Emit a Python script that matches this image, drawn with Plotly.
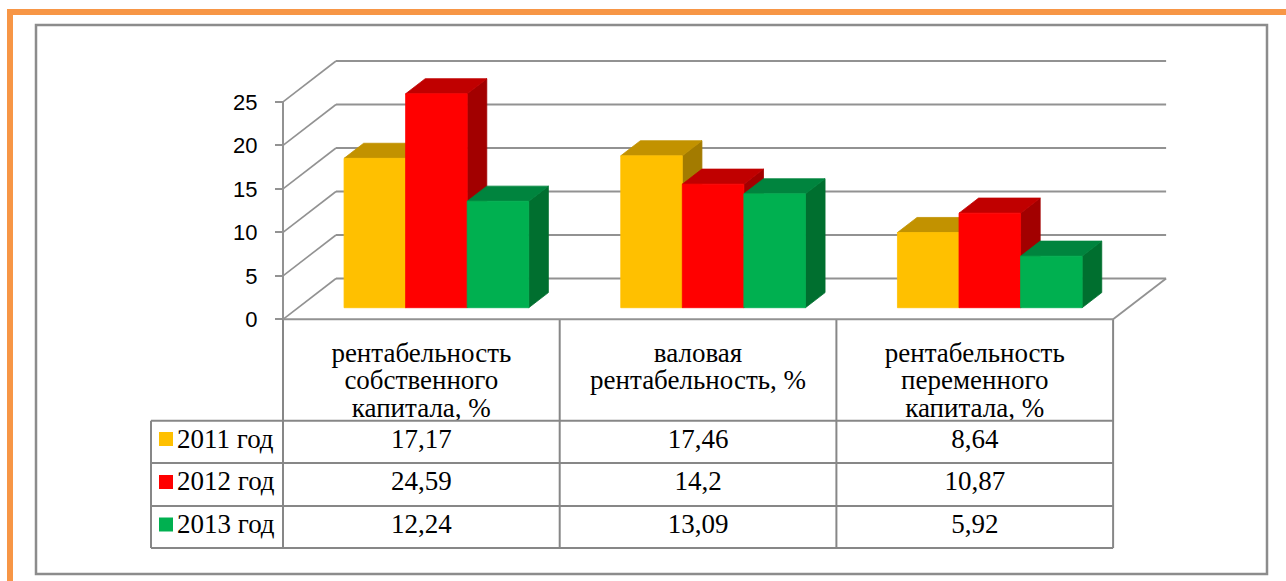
import plotly.graph_objects as go

# ---------------- data ----------------
categories = ["рентабельность собственного капитала, %",
              "валовая рентабельность, %",
              "рентабельность переменного капитала, %"]
series_names = ["2011 год", "2012 год", "2013 год"]
values_2011 = [17.17, 17.46, 8.64]
values_2012 = [24.59, 14.2, 10.87]
values_2013 = [12.24, 13.09, 5.92]
y_ticks = [0, 5, 10, 15, 20, 25]
y_tick_labels = ["0", "5", "10", "15", "20", "25"]

series_values = [values_2011, values_2012, values_2013]

# ---------------- geometry / style ----------------
W, H = 1286, 581
CAT_PX = 276.7        # pixels per category unit
X_LEFT_PX = 283.0     # pixel of x = -0.5 (front-left corner)
VAL_PX = 8.7          # pixels per value unit
Y_ZERO_PX = 319.3     # pixel of value 0 on the front plane


def xd(px):
    return -0.5 + (px - X_LEFT_PX) / CAT_PX


def yd(py):
    return (Y_ZERO_PX - py) / VAL_PX


def pxp(px):
    return px / W


def pyp(py):
    return 1 - py / H


DEPTH_X = 53.0 / CAT_PX
DEPTH_Y = 40.8 / VAL_PX
BAR_FRONT = 0.284
BAR_DEPTH = 0.37
BAR_W = 0.2225
GAP = (1 - 3 * BAR_W) / 2

front_colors = ["#FFC000", "#FF0000", "#00B050"]
top_colors = ["#C29200", "#C00000", "#00843E"]
side_colors = ["#A37B00", "#A20000", "#006F2F"]
GRID = "#929292"
TABLE = "#878787"
SERIF = "Liberation Serif"
TXT = 27

fig = go.Figure()
shapes = []

# back wall gridlines and side wall diagonals
x_back_l = -0.5 + DEPTH_X
x_back_r = len(categories) - 0.5 + DEPTH_X
for t in y_ticks:
    shapes.append(dict(type="line", xref="x", yref="y", layer="below",
                       x0=x_back_l, x1=x_back_r, y0=t + DEPTH_Y, y1=t + DEPTH_Y,
                       line=dict(color=GRID, width=2)))
    shapes.append(dict(type="line", xref="x", yref="y", layer="below",
                       x0=-0.5, x1=x_back_l, y0=t, y1=t + DEPTH_Y,
                       line=dict(color=GRID, width=1.6)))
# floor right edge
shapes.append(dict(type="line", xref="x", yref="y", layer="below",
                   x0=len(categories) - 0.5, x1=x_back_r, y0=0, y1=DEPTH_Y,
                   line=dict(color=GRID, width=1.8)))
# front value axis line
shapes.append(dict(type="line", xref="x", yref="y", layer="below",
                   x0=-0.5, x1=-0.5, y0=0, y1=max(y_ticks),
                   line=dict(color=GRID, width=2)))

# ---------------- 3D bars ----------------
dxb = BAR_DEPTH * DEPTH_X
dyb = BAR_DEPTH * DEPTH_Y
base = BAR_FRONT * DEPTH_Y
for i in range(len(categories)):
    x_start = i - 0.5 + BAR_FRONT * DEPTH_X + GAP
    for s, vals in enumerate(series_values):
        v = vals[i]
        xl = x_start + s * BAR_W
        xr = xl + BAR_W
        top = base + v
        # side face
        fig.add_trace(go.Scatter(
            x=[xr, xr + dxb, xr + dxb, xr, xr],
            y=[base, base + dyb, top + dyb, top, base],
            mode="lines", fill="toself", fillcolor=side_colors[s],
            line=dict(color=side_colors[s], width=0.8), hoverinfo="skip",
            showlegend=False))
        # top face
        fig.add_trace(go.Scatter(
            x=[xl, xr, xr + dxb, xl + dxb, xl],
            y=[top, top, top + dyb, top + dyb, top],
            mode="lines", fill="toself", fillcolor=top_colors[s],
            line=dict(color=top_colors[s], width=0.8), hoverinfo="skip",
            showlegend=False))
        # front face
        fig.add_trace(go.Scatter(
            x=[xl, xr, xr, xl, xl],
            y=[base, base, top, top, base],
            mode="lines", fill="toself", fillcolor=front_colors[s],
            line=dict(color=front_colors[s], width=0.8),
            name=series_names[s], showlegend=False))

# ---------------- data table ----------------
n = len(categories)
row_lines_px = [420.7, 463.0, 506.0, 548.0]
legend_left = xd(151)
for b in range(n + 1):
    shapes.append(dict(type="line", xref="x", yref="y", layer="above",
                       x0=b - 0.5, x1=b - 0.5, y0=0, y1=yd(548),
                       line=dict(color=TABLE, width=2)))
shapes.append(dict(type="line", xref="x", yref="y", layer="above",
                   x0=legend_left, x1=legend_left, y0=yd(420.7), y1=yd(548),
                   line=dict(color=TABLE, width=2)))
shapes.append(dict(type="line", xref="x", yref="y", layer="above",
                   x0=-0.5, x1=n - 0.5, y0=0, y1=0,
                   line=dict(color=GRID, width=2)))
for ry in row_lines_px:
    shapes.append(dict(type="line", xref="x", yref="y", layer="above",
                       x0=legend_left, x1=n - 0.5, y0=yd(ry), y1=yd(ry),
                       line=dict(color=TABLE, width=2)))


def wrap(text, width=17):
    lines, cur = [], ""
    for w in text.split():
        cand = (cur + " " + w).strip()
        if len(cand) <= width or not cur:
            cur = cand
        else:
            lines.append(cur)
            cur = w
    if cur:
        lines.append(cur)
    return lines


header_line_px = [355.0, 382.5, 410.0]
hx, hy, ht = [], [], []
for i, c in enumerate(categories):
    for k, ln in enumerate(wrap(c)):
        hx.append(i)
        hy.append(yd(header_line_px[k]))
        ht.append(ln)
fig.add_trace(go.Scatter(x=hx, y=hy, text=ht, mode="text",
                         textposition="middle center",
                         textfont=dict(family=SERIF, size=TXT, color="#000000"),
                         hoverinfo="skip", showlegend=False, cliponaxis=False))

row_center_px = [441.0, 483.2, 526.3]
vx, vy, vt = [], [], []
for s, vals in enumerate(series_values):
    for i, v in enumerate(vals):
        vx.append(i)
        vy.append(yd(row_center_px[s]))
        vt.append(str(v).replace(".", ","))
fig.add_trace(go.Scatter(x=vx, y=vy, text=vt, mode="text",
                         textposition="middle center",
                         textfont=dict(family=SERIF, size=TXT, color="#000000"),
                         hoverinfo="skip", showlegend=False, cliponaxis=False))

# legend keys and names in the table
key_px = [439.0, 482.0, 524.5]
fig.add_trace(go.Scatter(x=[xd(166)] * 3, y=[yd(p) for p in key_px],
                         mode="markers",
                         marker=dict(symbol="square", size=14, color=front_colors,
                                     line=dict(width=0)),
                         hoverinfo="skip", showlegend=False, cliponaxis=False))
fig.add_trace(go.Scatter(x=[xd(177)] * 3, y=[yd(p) for p in row_center_px],
                         text=series_names, mode="text",
                         textposition="middle right",
                         textfont=dict(family=SERIF, size=TXT, color="#000000"),
                         hoverinfo="skip", showlegend=False, cliponaxis=False))

# ---------------- decorative frame ----------------
shapes.append(dict(type="rect", xref="paper", yref="paper", layer="above",
                   x0=pxp(7), x1=pxp(13), y0=pyp(581), y1=pyp(9),
                   fillcolor="#F79646", line=dict(width=0)))
shapes.append(dict(type="rect", xref="paper", yref="paper", layer="above",
                   x0=pxp(7), x1=pxp(1286), y0=pyp(15), y1=pyp(9),
                   fillcolor="#F79646", line=dict(width=0)))
shapes.append(dict(type="rect", xref="paper", yref="paper", layer="below",
                   x0=pxp(36), x1=pxp(1267), y0=pyp(574), y1=pyp(25),
                   fillcolor="rgba(0,0,0,0)", line=dict(color="#8C8C8C", width=2.5)))

fig.update_layout(
    width=W, height=H,
    margin=dict(l=0, r=0, t=0, b=0, pad=0),
    paper_bgcolor="white", plot_bgcolor="white",
    shapes=shapes,
    showlegend=False,
    xaxis=dict(range=[xd(0), xd(W)], visible=False, fixedrange=True),
    yaxis=dict(range=[yd(H), yd(0)], showgrid=False, zeroline=False,
               showline=False, anchor="free", position=pxp(X_LEFT_PX),
               tickmode="array", tickvals=y_ticks, ticktext=y_tick_labels,
               ticks="outside", ticklen=8, tickwidth=2, tickcolor=GRID,
               ticklabelstandoff=13,
               tickfont=dict(family="Liberation Sans", size=22, color="#000000"),
               fixedrange=True),
)

fig.write_html("out.html", config={"displayModeBar": False},
               post_script="document.body.style.margin='0';document.body.style.overflow='hidden';")
